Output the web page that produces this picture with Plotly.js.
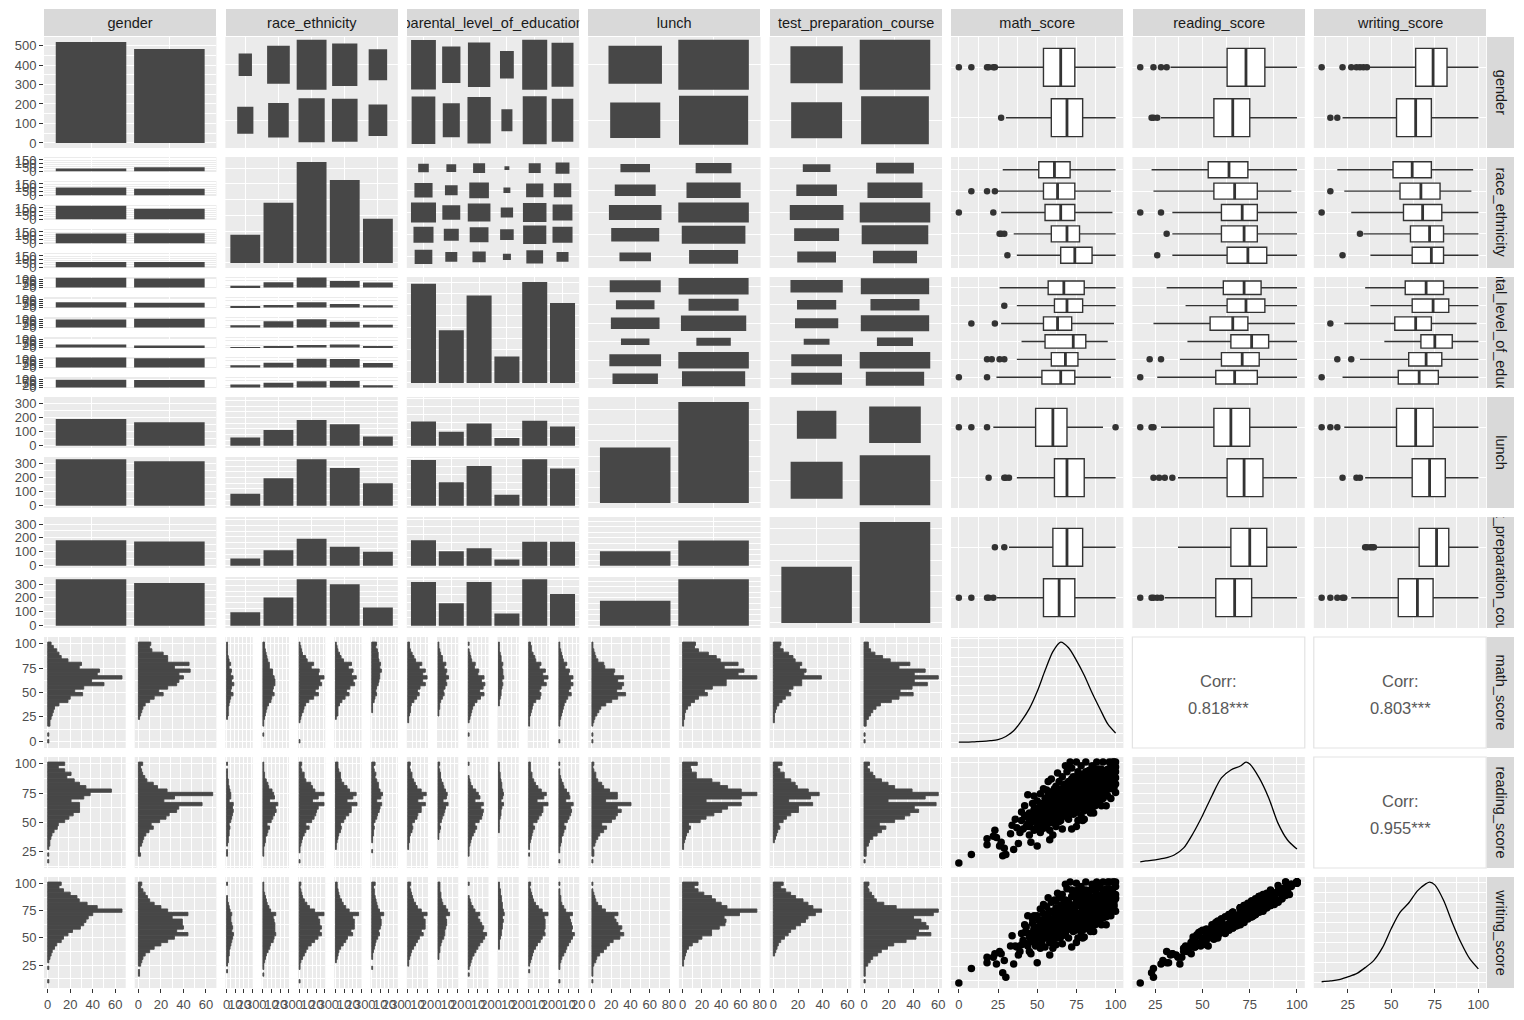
<!DOCTYPE html>
<html><head><meta charset="utf-8">
<script src="https://cdn.plot.ly/plotly-3.0.1.min.js"></script>
<style>html,body{margin:0;padding:0;background:#fff}</style>
</head><body><div id="chart" style="width:1524px;height:1020px"></div>
<script>
// ---------------- DATA ----------------
const varNames = ['gender','race_ethnicity','parental_level_of_education','lunch','test_preparation_course','math_score','reading_score','writing_score'];
const genderLevels = ['female','male'];
const raceLevels = ['group A','group B','group C','group D','group E'];
const parentLevels = ["associate's degree","bachelor's degree",'high school',"master's degree",'some college','some high school'];
const lunchLevels = ['free/reduced','standard'];
const testLevels = ['completed','none'];

const genderCounts = [518,482];
const raceCounts = [89,190,319,262,140];
const parentCounts = [222,118,196,59,226,179];
const lunchCounts = [355,645];
const testCounts = [358,642];

const genderByRace = [[36,104,180,129,69],[53,86,139,133,71]];
const genderByParent = [[116,63,94,36,118,91],[106,55,102,23,108,88]];
const genderByLunch = [[189,329],[166,316]];
const genderByTest = [[184,334],[174,308]];
const raceByParent = [[14,12,18,3,18,24],[41,20,48,6,37,38],[78,40,64,19,69,49],[50,28,44,23,67,50],[39,18,22,8,35,18]];
const raceByLunch = [[36,53],[69,121],[114,205],[95,167],[41,99]];
const raceByTest = [[31,58],[67,123],[117,202],[82,180],[61,79]];
const parentByLunch = [[77,145],[44,74],[70,126],[24,35],[79,147],[61,118]];
const parentByTest = [[82,140],[46,72],[56,140],[20,39],[77,149],[77,102]];
const lunchByTest = [[131,224],[227,418]];

const mathMin = 0, mathMax = 100, readMin = 17, readMax = 100, writMin = 10, writMax = 100;
const NBINS = 30;

const mathHistGender = [[1,0,1,0,0,2,2,3,4,5,6,10,18,20,31,24,32,50,39,66,44,46,28,30,18,12,10,8,5,3],[0,0,0,0,0,0,0,1,2,3,4,6,10,14,22,18,26,34,36,40,36,46,32,45,26,26,22,12,10,11]];
const mathHistRace = [[0,0,0,0,0,0,0,1,2,2,2,3,4,5,8,5,6,9,6,8,5,6,3,5,3,2,1,1,1,1],[0,0,1,0,0,1,1,2,3,4,5,7,10,11,14,12,13,15,15,14,12,12,8,8,6,5,4,3,2,2],[1,0,0,0,0,0,1,2,3,5,6,8,12,18,24,20,24,28,26,31,24,25,15,18,10,8,4,3,2,1],[0,0,0,0,0,0,0,1,3,3,3,5,8,12,17,14,18,24,22,26,20,22,16,20,10,7,5,3,2,1],[0,0,0,0,0,0,0,0,0,1,1,1,3,4,6,5,6,8,9,10,10,12,10,11,9,8,8,7,5,6]];
const mathHistParent = [[0,0,0,0,0,0,1,1,2,3,3,4,7,10,13,11,14,20,17,22,17,20,13,16,9,7,5,3,2,2],[0,0,0,0,0,0,0,0,1,1,2,2,3,5,7,6,8,10,9,12,9,10,7,9,5,5,3,2,1,1],[0,0,1,0,0,0,1,2,3,4,5,7,10,14,18,13,17,19,15,18,11,12,7,8,4,3,2,1,0,1],[0,0,0,0,0,0,0,0,0,0,0,1,1,2,3,3,4,5,4,6,5,5,4,5,3,3,2,1,1,1],[0,0,0,0,0,1,1,1,2,3,4,5,8,13,14,12,14,20,17,22,16,19,12,14,8,7,5,3,3,2],[1,0,0,0,0,1,1,2,3,4,5,6,8,10,14,11,13,16,13,16,11,12,7,9,5,4,3,2,1,1]];
const mathHistLunch = [[1,0,1,0,0,1,2,3,5,7,9,14,20,26,34,25,30,32,26,32,22,23,13,12,6,4,3,2,1,1],[0,0,0,0,0,1,1,2,2,3,5,8,12,16,25,22,30,44,44,75,56,62,42,56,38,34,26,16,12,13]];
const mathHistTest = [[0,0,0,0,0,0,1,1,1,2,3,5,8,11,16,14,18,26,26,44,28,30,24,26,20,18,14,9,6,7],[1,0,1,0,0,2,2,4,6,8,11,15,25,32,45,33,44,58,46,68,46,56,32,42,24,17,10,6,4,4]];

const readHistGender = [[1,0,1,0,1,2,2,3,4,6,9,10,16,20,24,30,30,30,22,34,40,60,36,30,25,18,22,16,10,16],[0,0,2,1,1,3,4,5,7,10,14,12,20,26,29,36,38,60,24,34,70,27,18,14,8,6,4,3,2,4]];
const readHistRace = [[0,0,1,1,0,1,2,2,3,3,4,3,5,6,7,8,7,8,3,5,5,4,3,2,2,1,1,1,0,1],[0,0,1,1,1,2,3,3,5,6,8,5,10,12,14,16,15,18,8,14,13,11,7,6,4,2,2,1,1,1],[1,0,0,1,1,2,3,4,6,8,12,8,15,18,20,21,23,30,16,23,30,19,16,14,8,6,6,3,2,3],[0,0,0,0,1,1,2,3,4,6,7,6,10,12,16,19,19,26,14,21,25,17,14,10,7,6,6,4,3,3],[0,0,0,1,0,0,1,1,2,2,3,2,4,6,7,9,10,12,6,11,13,10,8,8,6,4,5,3,2,4]];
const readHistParent = [[0,0,0,0,1,1,2,2,3,5,6,5,8,11,12,16,16,21,12,18,22,16,11,9,7,5,5,3,2,3],[0,0,0,0,0,0,0,1,1,2,3,2,4,5,7,8,9,12,6,10,11,9,7,6,4,3,3,2,1,2],[0,0,1,1,1,2,3,4,6,8,10,8,13,16,17,18,15,18,8,14,12,9,5,3,2,1,0,0,0,1],[0,0,0,0,0,0,0,0,0,1,1,1,1,2,3,3,4,6,3,5,6,5,4,4,3,2,2,1,1,1],[0,0,1,0,1,1,2,3,4,5,7,5,10,12,15,17,17,23,10,18,21,15,11,8,6,4,4,2,2,2],[1,0,0,1,1,2,3,3,5,6,8,6,10,12,14,15,14,17,8,13,12,9,6,5,3,2,1,1,0,1]];
const readHistLunch = [[1,0,2,2,1,3,4,6,8,12,15,10,20,24,26,30,26,40,14,26,26,18,12,10,6,4,4,2,1,2],[0,0,0,0,1,1,2,3,4,6,8,6,18,24,32,40,46,60,24,60,76,60,46,38,30,14,14,9,8,15]];
const readHistTest = [[0,0,0,0,0,0,1,2,3,4,6,5,9,12,16,23,23,36,14,34,42,32,22,20,16,10,10,6,4,8],[1,0,2,2,2,4,5,8,12,16,20,14,28,37,42,50,46,66,22,56,68,44,28,22,16,10,8,5,3,5]];

const writHistGender = [[1,0,0,0,1,0,1,2,3,4,6,8,12,14,18,22,29,32,34,36,40,66,44,35,28,26,20,14,10,12],[0,0,1,1,0,2,3,4,6,10,14,20,26,32,44,34,40,39,39,30,44,26,20,14,10,8,6,4,2,3]];
const writHistRace = [[0,0,0,1,0,1,2,2,3,3,4,5,6,7,8,6,7,6,5,5,6,4,3,2,1,1,0,0,0,1],[0,0,1,0,1,1,2,3,4,6,8,9,12,13,15,14,14,14,13,12,15,9,7,5,4,3,2,1,1,1],[1,0,0,0,1,1,2,4,6,8,10,14,18,22,26,24,26,24,24,22,29,18,12,9,6,4,3,2,1,2],[0,0,0,0,0,0,1,2,3,4,6,9,12,14,20,18,22,22,22,20,27,16,12,9,7,5,4,3,2,2],[0,0,0,0,1,0,0,1,1,2,3,4,5,7,9,8,10,11,11,10,14,9,7,6,5,4,3,3,2,4]];
const writHistParent = [[0,0,0,0,0,1,1,2,3,4,6,8,10,12,16,14,18,18,18,16,20,14,10,8,6,5,4,3,2,3],[0,0,0,0,0,0,0,1,1,2,2,3,4,6,7,7,8,9,9,8,12,10,8,5,4,3,3,2,2,2],[0,0,1,0,1,2,3,4,6,8,10,12,15,17,19,15,16,14,12,10,12,7,5,3,2,1,0,0,0,1],[0,0,0,0,0,0,0,0,0,0,1,1,1,2,3,3,4,4,5,4,6,5,4,4,3,3,2,2,1,1],[0,0,0,1,0,1,2,3,4,5,7,9,12,14,17,16,17,17,17,16,20,14,10,7,5,4,3,2,1,2],[1,0,0,0,1,1,2,3,5,7,8,10,12,14,16,13,14,13,12,11,14,7,5,3,2,2,1,1,0,1]];
const writHistLunch = [[1,0,1,1,1,2,4,5,8,12,15,18,22,29,33,29,31,27,25,23,27,14,10,6,4,3,2,1,0,1],[0,0,0,0,0,1,1,2,3,4,6,10,16,20,30,30,38,44,45,43,59,77,46,40,34,30,22,16,12,16]];
const writHistTest = [[0,0,0,0,0,0,0,0,1,2,3,4,6,9,12,14,18,22,26,28,34,39,32,28,24,18,14,10,6,8],[1,0,1,1,1,3,5,7,11,14,19,24,34,42,54,44,52,50,46,40,56,60,26,16,10,8,6,4,3,4]];

// box stats per level: [lower whisker, q1, median, q3, upper whisker]
const mathBoxGender = [[25,54,65,74,100],[30,59,69,79,100]];
const mathOutGender = [[0,8,18,19,22,23],[27]];
const mathBoxRace = [[28,51,61,71,100],[25,54,63,74,97],[27,55,65,74,98],[35,59,69,77,100],[37,65,74,85,100]];
const mathOutRace = [[],[8,18,23],[0,22],[26,27,29],[31]];
const mathBoxParent = [[26,57,67,80,100],[37,61,69,79,100],[27,54,63,72,99],[40,55,73,81,95],[37,59,68,76,100],[24,53,65,74,97]];
const mathOutParent = [[],[29],[8,23],[],[18,21,26,29],[0,18]];
const mathBoxLunch = [[22,49,60,69,92],[37,61,69,80,100]];
const mathOutLunch = [[0,8,18,100],[19,29,30,32]];
const mathBoxTest = [[32,60,69,79,100],[24,54,64,74,100]];
const mathOutTest = [[23,29],[0,8,18,19,22]];

const readBoxGender = [[33,63,73,83,100],[28,56,66,75,100]];
const readOutGender = [[17,24,28,31],[23,24,26]];
const readBoxRace = [[23,53,64,74,100],[24,56,67,79,97],[34,60,71,79,100],[34,60,72,79,100],[34,63,74,84,100]];
const readOutRace = [[],[],[17,28],[31],[26]];
const readBoxParent = [[31,61,72,81,100],[41,63,73,83,100],[24,54,66,74,99],[42,65,76,85,100],[38,60,71,80,100],[26,57,67,79,100]];
const readOutParent = [[],[],[],[],[22,28],[17]];
const readBoxLunch = [[28,56,65,75,100],[37,63,72,82,100]];
const readOutLunch = [[17,23,24],[24,27,30,34]];
const readBoxTest = [[37,65,75,84,100],[30,57,67,76,100]];
const readOutTest = [[],[17,23,24,26,28]];

const writBoxGender = [[37,64,74,82,100],[22,53,64,73,100]];
const writOutGender = [[10,22,27,30,32,34,36],[15,19]];
const writBoxRace = [[19,51,62,73,97],[23,55,67,78,96],[27,57,68,79,100],[34,61,72,80,100],[38,62,73,80,100]];
const writOutRace = [[],[15],[10],[32],[22]];
const writBoxParent = [[35,58,70,80,100],[38,62,74,83,100],[23,52,64,73,99],[46,67,75,85,100],[32,60,70,79,100],[22,54,66,77,100]];
const writOutParent = [[],[],[15],[],[19,27],[10]];
const writBoxLunch = [[23,53,64,74,100],[35,62,72,81,100]];
const writOutLunch = [[10,15,19],[22,30,32]];
const writBoxTest = [[41,66,76,83,100],[27,54,65,74,100]];
const writOutTest = [[35,36,38,39,40],[10,15,19,22,23]];

// density curves (values x 1e-3)
const mathDensX = [0,5,10,15,20,25,30,35,40,45,50,55,60,65,70,75,80,85,90,95,100];
const mathDensY = [0.2,0.2,0.3,0.4,0.6,0.9,1.7,3.2,5.8,9.0,13.5,19.0,24.0,26.5,25.0,21.7,17.8,13.2,9.0,5.0,2.6];
const readDensX = [17,20,25,30,35,40,45,50,55,60,65,70,73,75,80,85,90,95,100];
const readDensY = [0.3,0.5,0.8,1.2,2.0,3.8,7.5,12.0,17.0,21.5,23.5,24.5,25.5,25.0,21.5,16.5,10.0,5.8,3.5];
const writDensX = [10,15,20,25,30,35,40,45,50,55,60,65,70,72,75,80,85,90,95,100];
const writDensY = [0.3,0.5,0.8,1.5,2.3,3.8,5.6,8.8,13.5,17.5,19.8,22.8,24.6,25.0,24.3,20.5,15.0,10.0,6.0,3.5];

const corrPairs = [[0,1],[0,2],[1,2]];
const corrValues = ['0.818***','0.803***','0.955***'];

// student scores [math, reading, writing] (estimated from scatter clouds)
const scatterScores = [
[0,17,10],[8,24,23],[18,32,28],[18,37,33],[22,39,33],[23,44,36],[24,38,27],[26,31,38],[27,34,36],[28,23,19],
[29,29,30],[30,24,15],[33,41,43],[34,48,52],[35,28,27],[36,53,43],[37,46,42],[39,42,38],[40,52,44],[40,59,54],
[41,45,48],[42,64,62],[43,55,60],[44,73,70],[44,49,43],[45,40,38],[45,58,51],[46,34,36],[47,53,50],[47,66,67],
[48,44,46],[48,61,58],[49,57,53],[50,31,28],[50,47,44],[50,53,55],[50,68,70],[51,62,60],[52,42,41],[52,58,52],
[52,74,76],[53,50,47],[53,65,66],[54,55,52],[54,61,62],[55,46,42],[55,70,68],[56,58,57],[56,77,78],[57,52,50],
[57,65,61],[58,44,46],[58,61,57],[58,72,74],[59,56,53],[59,68,64],[59,86,82],[60,50,48],[60,63,62],[60,76,74],
[61,58,56],[61,70,72],[62,47,44],[62,66,63],[62,80,83],[63,55,52],[63,62,60],[63,73,70],[64,51,50],[64,68,66],
[64,84,86],[65,60,58],[65,65,64],[65,76,77],[66,55,52],[66,71,71],[66,88,89],[67,62,61],[67,67,66],[67,80,78],
[68,58,54],[68,73,72],[69,65,64],[69,78,80],[69,92,94],[70,53,50],[70,61,59],[70,70,68],[70,84,82],[71,67,68],
[71,75,74],[72,45,42],[72,62,60],[72,80,79],[72,95,93],[73,57,56],[73,70,70],[73,88,90],[74,66,64],[74,75,74],
[75,60,58],[75,71,70],[75,82,81],[75,100,99],[76,52,50],[76,67,66],[76,77,79],[76,92,93],[77,63,60],[77,73,72],
[78,56,55],[78,70,69],[78,84,85],[78,97,96],[79,65,66],[79,79,77],[80,60,58],[80,74,72],[80,88,90],[81,69,68],
[81,82,83],[81,100,100],[82,64,62],[82,77,76],[83,71,70],[83,93,92],[84,58,56],[84,67,66],[84,85,86],[85,76,75],
[85,97,98],[86,65,63],[86,82,80],[87,71,69],[87,90,92],[88,78,77],[88,100,99],[89,68,67],[89,85,84],[90,74,75],
[90,94,95],[91,64,62],[91,80,80],[92,88,87],[92,100,100],[93,73,71],[93,83,82],[94,64,62],[94,93,94],[95,78,77],
[95,89,90],[96,100,100],[97,84,82],[97,70,70],[98,92,93],[99,79,78],[99,100,100],[100,87,86],[100,96,96],[100,100,100],
[100,75,74],[66,45,45],[60,40,41],[58,36,35],[75,47,46],[80,53,51],[86,58,56],[92,70,68],[54,78,80],[48,72,70],
[42,56,55],[38,33,35],[57,84,86],[63,91,90],[68,97,98],[71,100,100],[85,60,57],[79,52,50],
[51,55,54],[53,59,58],[55,62,60],[56,66,64],[57,60,60],[58,54,52],[59,63,61],[60,67,66],[61,64,62],[62,59,58],
[62,72,70],[63,68,67],[64,62,61],[64,74,75],[65,70,69],[66,64,63],[66,78,76],[67,72,71],[68,66,65],[68,82,84],
[69,59,58],[69,71,70],[70,76,76],[70,65,63],[71,80,79],[71,60,58],[72,70,71],[72,86,87],[73,64,62],[73,78,77],
[74,82,80],[74,58,57],[75,66,65],[75,88,88],[76,72,71],[76,84,83],[77,68,66],[77,80,80],[78,62,61],[78,90,92],
[79,73,74],[79,86,86],[80,67,65],[80,80,79],[81,76,75],[81,92,91],[82,70,69],[82,86,87],[83,80,79],[83,63,61],
[84,74,72],[84,92,93],[85,68,66],[85,86,85],[86,76,74],[86,95,96],[87,82,81],[87,64,62],[88,72,70],[88,88,89],
[89,78,77],[89,94,95],[90,84,83],[90,68,66],[91,88,89],[91,72,71],[92,78,76],[93,90,91],[94,84,84],[95,72,70],
[96,86,85],[96,94,94],[97,78,77],[98,86,85],[98,100,100],[46,50,48],[49,62,60],[52,66,65],[55,53,50],[57,72,72],
[45,52,54],[43,47,45],[49,45,43],[61,52,50],[65,52,51],
[45,47,53],[48,52,58],[50,58,50],[52,49,56],[53,62,55],[54,66,72],[55,57,63],[56,62,54],[57,69,62],[58,50,57],
[59,60,67],[60,71,64],[61,66,73],[62,55,62],[63,78,71],[64,58,65],[65,72,79],[66,68,61],[67,57,64],[68,77,70],
[69,70,77],[70,58,65],[71,72,64],[72,66,73],[73,82,75],[74,70,62],[75,76,83],[76,62,69],[77,86,79],[78,66,73],
[79,82,74],[80,70,77],[81,86,93],[82,74,67],[83,88,80],[84,80,87],[85,72,79],[86,90,82],[87,78,85],[88,84,77],
[89,74,81],[90,90,97],[91,84,77],[92,92,85],[93,80,87],[94,76,69],[95,94,100],[96,82,75],[97,96,89],[98,80,87],
[99,90,83],[100,82,89],[100,92,85],[56,48,55],[60,56,49],[64,64,71],[68,62,55],[72,76,69],[76,80,87],[80,76,69],
[84,90,83],[88,94,100],[58,66,59],[62,70,77],[66,60,67],[70,80,73],[74,86,92],[78,76,70],[82,80,86],[86,70,77],
[90,78,71],[94,88,81],[51,60,66],[55,66,59],[59,52,58],[63,64,57],[67,76,82],[71,64,71],[75,68,61],[79,70,76],
[83,76,83],[87,86,79],[91,94,88],[95,84,90],[99,86,80],[47,57,63],[53,45,51],[57,74,68],[61,78,84],[65,56,62]
];

// ---------------- LAYOUT / STYLE ----------------
const FONT = '"Liberation Sans", Arial, Helvetica, sans-serif';
const W = 1524, H = 1020;
const CX0 = 44, CPX = 181.4, CW = 172.4, CY0 = 37, CPY = 120, CH = 111, GAP = 9;
const BAR = '#474747', GRID = '#FFFFFF', PANEL = '#EBEBEB', INK = '#333333';

const discLevels = [genderLevels, raceLevels, parentLevels, lunchLevels, testLevels];
const discCounts = [genderCounts, raceCounts, parentCounts, lunchCounts, testCounts];
const crossTables = {'0-1':genderByRace,'0-2':genderByParent,'0-3':genderByLunch,'0-4':genderByTest,'1-2':raceByParent,'1-3':raceByLunch,'1-4':raceByTest,'2-3':parentByLunch,'2-4':parentByTest,'3-4':lunchByTest};
const scoreRanges = [[mathMin,mathMax],[readMin,readMax],[writMin,writMax]];
const histTables = [[mathHistGender,mathHistRace,mathHistParent,mathHistLunch,mathHistTest],[readHistGender,readHistRace,readHistParent,readHistLunch,readHistTest],[writHistGender,writHistRace,writHistParent,writHistLunch,writHistTest]];
const boxTables = [[mathBoxGender,mathBoxRace,mathBoxParent,mathBoxLunch,mathBoxTest],[readBoxGender,readBoxRace,readBoxParent,readBoxLunch,readBoxTest],[writBoxGender,writBoxRace,writBoxParent,writBoxLunch,writBoxTest]];
const outTables = [[mathOutGender,mathOutRace,mathOutParent,mathOutLunch,mathOutTest],[readOutGender,readOutRace,readOutParent,readOutLunch,readOutTest],[writOutGender,writOutRace,writOutParent,writOutLunch,writOutTest]];
const densX = [mathDensX, readDensX, writDensX];
const densY = [mathDensY, readDensY, writDensY];
const scoreCols = [scatterScores.map(s=>s[0]), scatterScores.map(s=>s[1]), scatterScores.map(s=>s[2])];

function crossTab(i,j){ if(i<j) return crossTables[i+'-'+j]; const t=crossTables[j+'-'+i]; return t[0].map((_,c)=>t.map(row=>row[c])); }
function idx(n){ return Array.from({length:n},(_,i)=>i); }
function expand(r,f){ f = f===undefined?0.05:f; const d=r[1]-r[0]; return [r[0]-f*d, r[1]+f*d]; }
function niceStep(span,target){ target=target||4; const raw=span/target; const mag=Math.pow(10,Math.floor(Math.log10(raw))); const n=raw/mag; let s; if(n<1.5)s=1; else if(n<3)s=2; else if(n<4)s=2.5; else if(n<7.5)s=5; else s=10; return s*mag; }

const layout = {width:W, height:H, margin:{l:0,r:0,t:0,b:0,pad:0}, paper_bgcolor:'#FFFFFF', plot_bgcolor:PANEL,
  showlegend:false, barmode:'overlay', boxmode:'overlay', hovermode:false, font:{family:FONT,size:13,color:'#4D4D4D'},
  annotations:[], shapes:[]};
const traces = [];
let axN = 0;
function tickStyle(){ return {showticklabels:true, ticks:'outside', ticklen:4, tickwidth:1, tickcolor:INK, tickangle:0, tickfont:{family:FONT,size:13,color:'#4D4D4D'}}; }
function addAxes(px,py,pw,ph,xo,yo){
  axN++; const s = axN===1?'':String(axN);
  const base = {zeroline:false, showline:false, ticks:'', showticklabels:false, fixedrange:true, showgrid:true, gridcolor:GRID, gridwidth:1.1};
  layout['xaxis'+s] = Object.assign({}, base, {domain:[px/W,(px+pw)/W], anchor:'y'+s}, xo);
  layout['yaxis'+s] = Object.assign({}, base, {domain:[1-(py+ph)/H, 1-py/H], anchor:'x'+s}, yo);
  return {x:'x'+s, y:'y'+s};
}
function contAx(range,dtick,show){
  const o = {range:range, tickmode:'linear', tick0:0, dtick:dtick,
    minor:{showgrid:true, gridcolor:GRID, gridwidth:0.55, tickmode:'linear', tick0:0, dtick:dtick/2}};
  if(show) Object.assign(o, tickStyle());
  return o;
}
function discAx(n,padLo,padHi){ return {range:[-padLo, n-1+padHi], tickmode:'array', tickvals:idx(n)}; }

// ---------------- CELLS ----------------
function diagBar(v,b,showY){
  const cnt = discCounts[v]; const n = cnt.length; const M = Math.max(...cnt);
  const yr = [-0.05*M, 1.05*M];
  const ax = addAxes(b.x,b.y,CW,CH, discAx(n,0.6,0.6), contAx(yr, niceStep(yr[1]-yr[0]), showY));
  traces.push({type:'bar', x:idx(n), y:cnt, width:0.9, marker:{color:BAR,line:{width:0}}, xaxis:ax.x, yaxis:ax.y, hoverinfo:'skip'});
}
function countTiles(r,c,b){
  const tab = crossTab(r,c); const ny = tab.length, nx = tab[0].length;
  const M = Math.max(...tab.map(row=>Math.max(...row)));
  const ax = addAxes(b.x,b.y,CW,CH, discAx(nx,0.6,0.6), discAx(ny,0.5,0.5));
  tab.forEach((row,i)=>{
    const pos = ny-1-i;
    const sz = row.map(v=>0.9*Math.sqrt(v/M));
    traces.push({type:'bar', x:idx(nx), y:sz, base:sz.map(s=>pos-s/2), width:sz, marker:{color:BAR,line:{width:0}}, xaxis:ax.x, yaxis:ax.y, hoverinfo:'skip'});
  });
}
function facetBar(r,c,b,showY){
  const tab = crossTab(r,c); const nf = tab.length, nb = tab[0].length;
  const M = Math.max(...tab.map(row=>Math.max(...row)));
  const yr = [-0.05*M, 1.05*M]; const dt = niceStep(yr[1]-yr[0]);
  const fh = (CH - GAP*(nf-1))/nf;
  tab.forEach((row,f)=>{
    const ax = addAxes(b.x, b.y+f*(fh+GAP), CW, fh, discAx(nb,0.6,0.6), contAx(yr,dt,showY));
    traces.push({type:'bar', x:idx(nb), y:row, width:0.9, marker:{color:BAR,line:{width:0}}, xaxis:ax.x, yaxis:ax.y, hoverinfo:'skip'});
  });
}
function boxCell(v,s,b){
  const st = boxTables[s][v], outs = outTables[s][v]; const n = st.length;
  const pos = idx(n).map(i=>n-1-i);
  const ax = addAxes(b.x,b.y,CW,CH, contAx(expand(scoreRanges[s]),25,false), discAx(n,0.6,0.6));
  traces.push({type:'box', orientation:'h', y:pos, lowerfence:st.map(q=>q[0]), q1:st.map(q=>q[1]), median:st.map(q=>q[2]), q3:st.map(q=>q[3]), upperfence:st.map(q=>q[4]),
    width:0.75, whiskerwidth:0, fillcolor:'#FFFFFF', line:{color:INK,width:1.4}, boxpoints:false, xaxis:ax.x, yaxis:ax.y, hoverinfo:'skip'});
  const mx=[], my=[];
  st.forEach((q,i)=>{ mx.push(q[2],q[2],null); my.push(pos[i]-0.375,pos[i]+0.375,null); });
  traces.push({type:'scatter', mode:'lines', x:mx, y:my, line:{color:INK,width:2.8}, xaxis:ax.x, yaxis:ax.y, hoverinfo:'skip', cliponaxis:false});
  const ox=[], oy=[];
  outs.forEach((arr,i)=>arr.forEach(o=>{ox.push(o); oy.push(pos[i]);}));
  traces.push({type:'scatter', mode:'markers', x:ox, y:oy, marker:{color:INK,size:6.5}, xaxis:ax.x, yaxis:ax.y, hoverinfo:'skip', cliponaxis:false});
}
function histCell(s,v,b,showX,showY){
  const tabs = histTables[s][v]; const nf = tabs.length;
  const M = Math.max(...tabs.map(t=>Math.max(...t)));
  const xr = [-0.05*M, 1.05*M];
  const dt = (v===2) ? 10 : niceStep(xr[1]-xr[0]);
  const sr = scoreRanges[s]; const bw = (sr[1]-sr[0])/(NBINS-1);
  const centers = idx(NBINS).map(k=>sr[0]+k*bw);
  const yr = expand([sr[0]-bw/2, sr[1]+bw/2]);
  const fw = (CW - GAP*(nf-1))/nf;
  tabs.forEach((t,f)=>{
    const ax = addAxes(b.x+f*(fw+GAP), b.y, fw, CH, contAx(xr,dt,showX), contAx(yr,25,showY && f===0));
    traces.push({type:'bar', orientation:'h', y:centers, x:t.map(v=>v===0?null:v), width:bw, marker:{color:BAR,line:{color:BAR,width:0.9}}, xaxis:ax.x, yaxis:ax.y, hoverinfo:'skip'});
  });
}
function densCell(s,b,showX){
  const M = Math.max(...densY[s]); const yr = [-0.05*M, 1.05*M];
  const ax = addAxes(b.x,b.y,CW,CH, contAx(expand(scoreRanges[s]),25,showX), contAx(yr, niceStep(yr[1]-yr[0]), false));
  traces.push({type:'scatter', mode:'lines', x:densX[s], y:densY[s], line:{color:'#000000',width:1.3,shape:'spline',smoothing:0.8}, xaxis:ax.x, yaxis:ax.y, hoverinfo:'skip'});
}
function corrCell(si,sj,b){
  const k = corrPairs.findIndex(p=>p[0]===si && p[1]===sj);
  layout.shapes.push({type:'rect', xref:'paper', yref:'paper', x0:b.x/W, x1:(b.x+CW)/W, y0:1-(b.y+CH)/H, y1:1-b.y/H, fillcolor:'#FFFFFF', line:{color:'#E3E3E3',width:1.2}, layer:'below'});
  const cx = (b.x+CW/2)/W, cy = b.y+CH/2;
  layout.annotations.push({xref:'paper', yref:'paper', x:cx, y:1-(cy-12)/H, text:'Corr:', showarrow:false, xanchor:'center', yanchor:'middle', font:{family:FONT,size:16.5,color:'#595959'}});
  layout.annotations.push({xref:'paper', yref:'paper', x:cx, y:1-(cy+15)/H, text:corrValues[k], showarrow:false, xanchor:'center', yanchor:'middle', font:{family:FONT,size:16.5,color:'#595959'}});
}
function scatterCell(sy,sx,b,showX){
  const ax = addAxes(b.x,b.y,CW,CH, contAx(expand(scoreRanges[sx]),25,showX), contAx(expand(scoreRanges[sy]),25,false));
  traces.push({type:'scatter', mode:'markers', x:scoreCols[sx], y:scoreCols[sy], marker:{color:'#000000',size:7.5}, xaxis:ax.x, yaxis:ax.y, hoverinfo:'skip', cliponaxis:false});
}

for(let r=0;r<8;r++){
  for(let c=0;c<8;c++){
    const b = {x:CX0+c*CPX, y:CY0+r*CPY};
    const showY = c===0, showX = r===7;
    if(r<5 && c<5){
      if(r===c) diagBar(r,b,showY);
      else if(r<c) countTiles(r,c,b);
      else facetBar(r,c,b,showY);
    } else if(r<5) boxCell(r,c-5,b);
    else if(c<5) histCell(r-5,c,b,showX,showY);
    else if(r===c) densCell(r-5,b,showX);
    else if(r<c) corrCell(r-5,c-5,b);
    else scatterCell(r-5,c-5,b,showX);
  }
}

// strips
varNames.forEach((name,c)=>{
  layout.annotations.push({xref:'paper', yref:'paper', x:(CX0+c*CPX+CW/2)/W, y:1-22.5/H, xanchor:'center', yanchor:'middle',
    text:name, showarrow:false, width:CW, height:27, bgcolor:'#D9D9D9', borderpad:0, borderwidth:0, align:'center', valign:'middle',
    font:{family:FONT,size:14.5,color:'#1A1A1A'}});
});
varNames.forEach((name,r)=>{
  layout.annotations.push({xref:'paper', yref:'paper', x:1500.5/W, y:1-(CY0+r*CPY+CH/2)/H, xanchor:'center', yanchor:'middle',
    text:name, showarrow:false, width:CH, height:27, textangle:90, bgcolor:'#D9D9D9', borderpad:0, borderwidth:0, align:'center', valign:'middle',
    font:{family:FONT,size:14.5,color:'#1A1A1A'}});
});

Plotly.newPlot('chart', traces, layout, {displayModeBar:false, responsive:false});
</script></body></html>
